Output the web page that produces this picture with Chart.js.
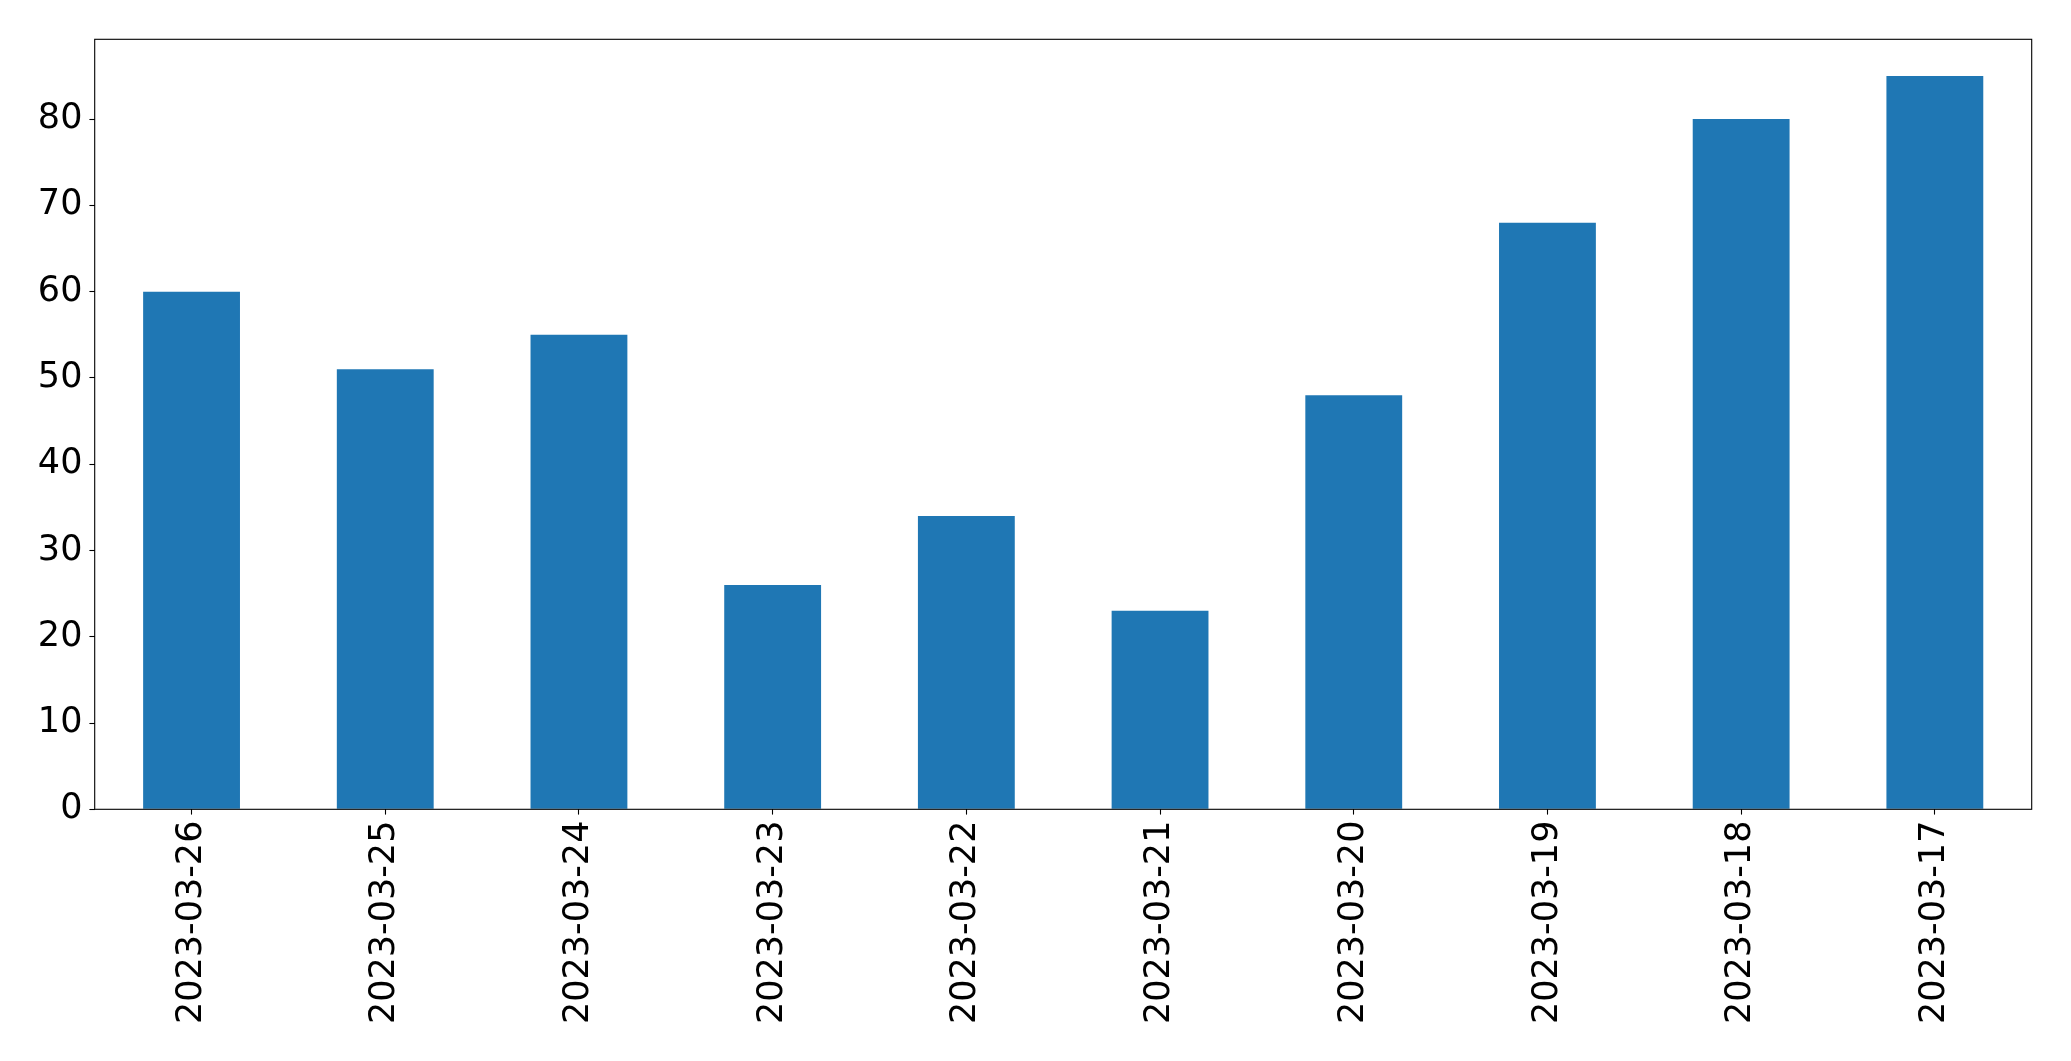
<!DOCTYPE html>
<html>
<head>
<meta charset="utf-8">
<script src="https://cdn.jsdelivr.net/npm/chart.js@4"></script>
<style>
html,body{margin:0;padding:0;background:#fff;}
#wrap{width:2071px;height:1061px;position:relative;}
</style>
</head>
<body>
<div id="wrap"><canvas id="c"></canvas></div>
<script>
const categories = ["2023-03-26","2023-03-25","2023-03-24","2023-03-23","2023-03-22","2023-03-21","2023-03-20","2023-03-19","2023-03-18","2023-03-17"];
const values = [60, 51, 55, 26, 34, 23, 48, 68, 80, 85];
const yMin = 0;
const yMax = 89.25;
const yStep = 10;

const frame = {
  id: 'frame',
  afterDraw(chart) {
    const a = chart.chartArea, ctx = chart.ctx;
    ctx.save();
    ctx.strokeStyle = '#000';
    ctx.lineWidth = 1.1;
    ctx.strokeRect(a.left, a.top, a.right - a.left, a.bottom - a.top);
    ctx.restore();
  }
};

const font = {family: 'DejaVu Sans', size: 35};

new Chart(document.getElementById('c'), {
  type: 'bar',
  data: {
    labels: categories,
    datasets: [{
      data: values,
      backgroundColor: '#1f77b4',
      borderWidth: 0,
      barPercentage: 0.5,
      categoryPercentage: 1.0
    }]
  },
  options: {
    responsive: true,
    maintainAspectRatio: false,
    animation: false,
    layout: {padding: {top: 39.3, right: 39.3, left: 0, bottom: 0}},
    plugins: {legend: {display: false}, tooltip: {enabled: false}},
    scales: {
      x: {
        offset: true,
        grid: {display: true, drawOnChartArea: false, drawTicks: true, tickLength: 5.3, tickWidth: 1.1, tickColor: '#000', offset: false},
        border: {display: false},
        ticks: {color: '#000', font: font, minRotation: 90, maxRotation: 90, autoSkip: false, padding: 6},
        afterFit(s) { s.height = 251.7; }
      },
      y: {
        min: yMin,
        max: yMax,
        grid: {display: true, drawOnChartArea: false, drawTicks: true, tickLength: 5.3, tickWidth: 1.1, tickColor: '#000'},
        border: {display: false},
        ticks: {color: '#000', font: font, stepSize: yStep, includeBounds: false, padding: 7},
        afterFit(s) { s.width = 94.7; }
      }
    }
  },
  plugins: [frame]
});
</script>
</body>
</html>
